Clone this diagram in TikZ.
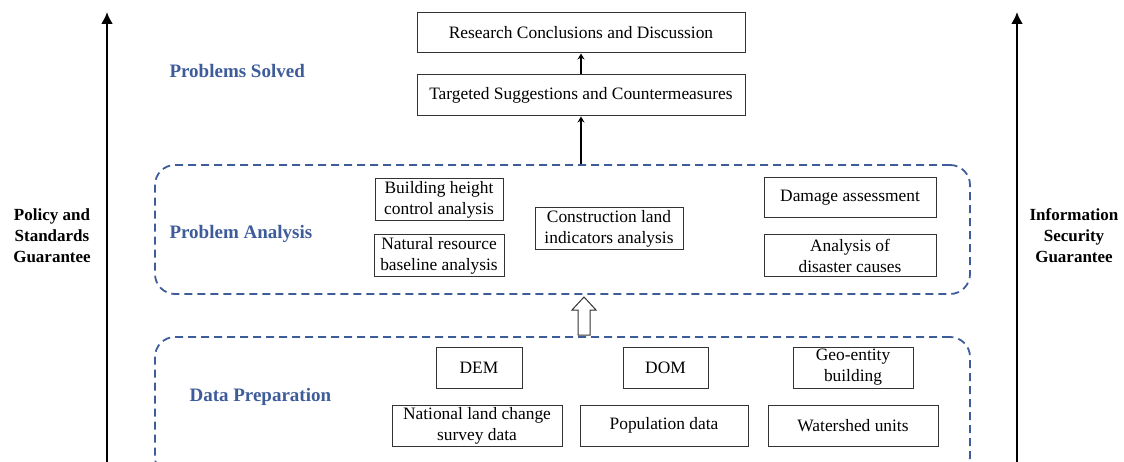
\documentclass[tikz,border=0pt]{standalone}
\usepackage{fontspec}
\setmainfont{Liberation Serif}
\usetikzlibrary{arrows.meta,calc}
\definecolor{dblue}{RGB}{62,92,154}
\tikzset{
  box/.style={draw=black!80, line width=1pt, inner sep=0pt, align=center,
    font=\fontsize{17.4}{21}\selectfont},
  grp/.style={draw=dblue, line width=1.8pt, dash pattern=on 8pt off 5pt, rounded corners=20pt},
  stage/.style={text=dblue, font=\fontsize{19}{22}\selectfont\bfseries, anchor=west},
  side/.style={align=center, font=\fontsize{17}{21}\selectfont\bfseries},
  big/.style={line width=2.2pt, -{Latex[length=12pt,width=12pt]}},
  small/.style={line width=1.6pt, -{Stealth[length=6pt,width=7pt,inset=2pt]}},
}
\begin{document}
\begin{tikzpicture}[x=1pt,y=-1pt]
\useasboundingbox (0,0) rectangle (1124,462);
% side arrows
\coordinate (lb) at (107,470); \coordinate (lt) at (107,12);
\coordinate (rb) at (1017,470); \coordinate (rt) at (1017,12);
\draw[big] (lb) -- (lt);
\draw[big] (rb) -- (rt);
\node[side] (policy) at (52,236) {Policy and\\Standards\\Guarantee};
\node[side] (info) at (1074,236) {Information\\Security\\Guarantee};
% stage labels
\node[stage] (ps) at (166,71) {Problems Solved};
\node[stage] (pa) at (166,234) {Problem Analysis};
\node[stage] (dp) at (186,397) {Data Preparation};
% group boxes
\node[grp, minimum width=815pt, minimum height=129pt] (gpa) at (562.5,229.5) {};
\node[grp, minimum width=815pt, minimum height=140pt] (gdp) at (562.5,407) {};
% top boxes
\node[box, minimum width=328pt, minimum height=40pt] (rc) at (581,33) {Research Conclusions and Discussion};
\node[box, minimum width=328pt, minimum height=41pt] (ts) at (581,95.5) {Targeted Suggestions and Countermeasures};
\draw[small] (ts.north) -- (rc.south);
\draw[small] (gpa.north -| ts.south) -- (ts.south);
% problem analysis boxes
\node[box, minimum width=128pt, minimum height=42pt] (bh) at (439,200) {Building height\\control analysis};
\node[box, minimum width=130pt, minimum height=42pt] (nr) at (439,256) {Natural resource\\baseline analysis};
\node[box, minimum width=148pt, minimum height=42pt] (cl) at (609,229) {Construction land\\indicators analysis};
\node[box, minimum width=172pt, minimum height=40pt] (da) at (850,198) {Damage assessment};
\node[box, minimum width=172pt, minimum height=42pt] (ad) at (850,256) {Analysis of\\disaster causes};
% data preparation boxes
\node[box, minimum width=86pt, minimum height=41pt] (dem) at (479,367.5) {DEM};
\node[box, minimum width=85pt, minimum height=41pt] (dom) at (665.5,367.5) {DOM};
\node[box, minimum width=120pt, minimum height=41pt] (geo) at (853,367.5) {Geo-entity\\building};
\node[box, minimum width=170pt, minimum height=41pt] (nl) at (477,425.5) {National land change\\survey data};
\node[box, minimum width=168pt, minimum height=41pt] (pop) at (664,425.5) {Population data};
\node[box, minimum width=170pt, minimum height=41pt] (ws) at (853,425.5) {Watershed units};
% hollow arrow from data preparation to problem analysis
\coordinate (hb) at (584,335);
\coordinate (ht) at (584,297);
\draw[line width=1pt, black!80, fill=white]
  ($(hb)+(-6,0)$) -- ($(ht)+(-6,13)$) -- ($(ht)+(-12,13)$) -- (ht)
  -- ($(ht)+(12,13)$) -- ($(ht)+(6,13)$) -- ($(hb)+(6,0)$) -- cycle;
\end{tikzpicture}
\end{document}
